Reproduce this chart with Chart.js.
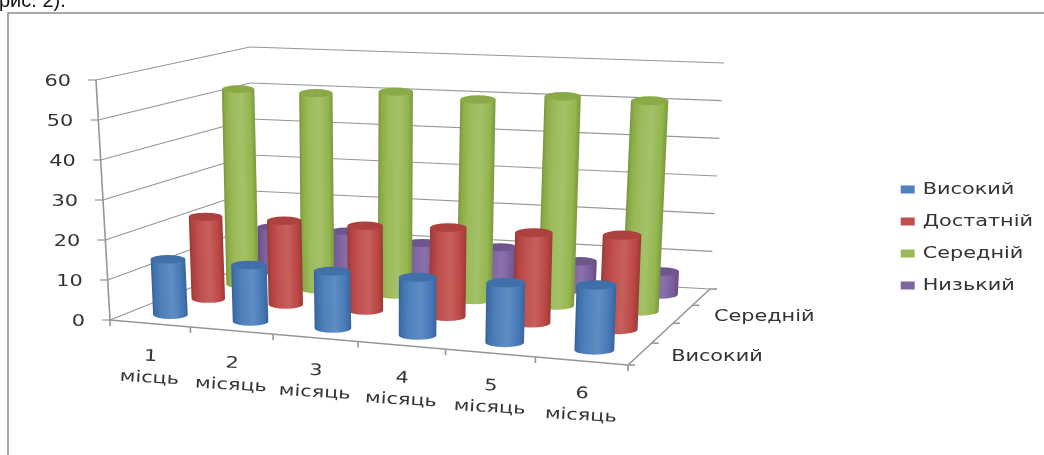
<!DOCTYPE html>
<html>
<head>
<meta charset="utf-8">
<style>
  html, body { margin: 0; padding: 0; background: #fff; }
  canvas { display: block; }
</style>
<script src="https://cdn.jsdelivr.net/npm/chart.js@4"></script>
</head>
<body>
<canvas id="popChart" width="1044" height="455"></canvas>
<script>
var monthLabels = [['1', 'місць'], ['2', 'місяць'], ['3', 'місяць'], ['4', 'місяць'], ['5', 'місяць'], ['6', 'місяць']];
var depthLabels = ['Високий', '', 'Середній', ''];
var seriesNames = ['Високий', 'Достатній', 'Середній', 'Низький'];
var seriesColors = ['#4F81BD', '#C0504D', '#9BBB59', '#8064A2'];

var highValues = [14, 14, 14, 14, 14.2, 15.2];
var sufficientValues = [21.3, 21.5, 21.5, 22.3, 22.3, 23];
var averageValues = [52, 51.8, 53, 51.8, 53.5, 53.2];
var lowValues = [12, 12, 10, 10, 7.5, 6];

var axisColor = '#969696';
var textColor = '#333333';
var color = Chart.helpers.color;

// corners of the box the cylinders stand in
var floorFL = [110, 320], floorFR = [628, 365], floorBR = [710, 289], floorBL = [253, 263];
var roofFL = [96, 80], roofFR = [638, 101], roofBR = [724, 63], roofBL = [250, 47];

function lerp(a, b, t) { return [a[0] + (b[0] - a[0]) * t, a[1] + (b[1] - a[1]) * t]; }

// u runs along the months, w goes into the depth, v is the value share of the axis
function project(u, w, v) {
  var fu = u / (1 + 0.088 * (1 - u));
  var fw = w * 1.217 / (1 + 0.217 * w);
  var low = lerp(lerp(floorFL, floorFR, fu), lerp(floorBL, floorBR, fu), fw);
  var high = lerp(lerp(roofFL, roofFR, fu), lerp(roofBL, roofBR, fu), fw);
  return lerp(low, high, v);
}

// position of a value along its scale, 0 to 1
function shareOf(scale, value) {
  return scale.getDecimalForPixel(scale.getPixelForValue(value));
}

// scales that keep their ticks but set the labels along the slanted edges
class WallLinear extends Chart.LinearScale {
  static id = 'wallLinear';
  _computeLabelArea() { return null; }
  _computeLabelItems(area) {
    var scale = this;
    var items = super._computeLabelItems(area);
    items.forEach(function (item, i) {
      var p = project(0, 0, shareOf(scale, scale.ticks[i].value));
      item.options.translation = [p[0] - 25, p[1] + 2];
    });
    return items;
  }
}

class MonthCategory extends Chart.CategoryScale {
  static id = 'monthCategory';
  _computeLabelArea() { return null; }
  _computeLabelItems(area) {
    var scale = this;
    var items = super._computeLabelItems(area);
    items.forEach(function (item, i) {
      var p = project(shareOf(scale, i), 0, 0);
      item.options.translation = [p[0], p[1] + 44];
      item.options.textAlign = 'center';
      item.options.textBaseline = 'middle';
      item.options.rotation = 0.055;
      item.textOffset = -item.font.lineHeight / 2;
    });
    return items;
  }
}

class DepthCategory extends Chart.CategoryScale {
  static id = 'depthCategory';
  _computeLabelArea() { return null; }
  _computeLabelItems(area) {
    var scale = this;
    var items = super._computeLabelItems(area);
    items.forEach(function (item, i) {
      var p = project(1, shareOf(scale, i), 0);
      item.options.translation = [p[0] + 31, p[1] + 3];
      item.options.textAlign = 'left';
      item.options.textBaseline = 'middle';
      item.textOffset = 0;
    });
    return items;
  }
}

class CylinderElement extends Chart.BarElement {
  static id = 'cylinder';
  draw(ctx) {
    var seat = this.seat;
    var halfWidth = 0.0365;

    var bottom = project(seat.u, seat.w, 0);
    var top = project(seat.u, seat.w, seat.v);
    var r = (project(seat.u + halfWidth, seat.w, 0)[0] - project(seat.u - halfWidth, seat.w, 0)[0]) / 2;
    var ry = r * 0.24;
    var base = this.options.backgroundColor;

    // shading runs square to the cylinder's lean
    var tilt = Math.atan2(bottom[0] - top[0], top[1] - bottom[1]);
    var midX = (top[0] + bottom[0]) / 2, midY = (top[1] + bottom[1]) / 2;
    var dx = r * Math.cos(tilt), dy = r * Math.sin(tilt);
    var side = ctx.createLinearGradient(midX - dx, midY - dy, midX + dx, midY + dy);
    side.addColorStop(0, color(base).darken(0.22).rgbString());
    side.addColorStop(0.14, color(base).darken(0.06).rgbString());
    side.addColorStop(0.42, color(base).lighten(0.08).rgbString());
    side.addColorStop(0.72, color(base).rgbString());
    side.addColorStop(0.92, color(base).darken(0.12).rgbString());
    side.addColorStop(1, color(base).darken(0.24).rgbString());

    ctx.save();
    ctx.beginPath();
    ctx.moveTo(top[0] - r, top[1]);
    ctx.lineTo(bottom[0] - r, bottom[1]);
    ctx.ellipse(bottom[0], bottom[1], r, ry, 0, Math.PI, 0, true);
    ctx.lineTo(top[0] + r, top[1]);
    ctx.closePath();
    ctx.fillStyle = side;
    ctx.fill();

    ctx.beginPath();
    ctx.ellipse(top[0], top[1], r, ry, 0, 0, Math.PI * 2);
    ctx.fillStyle = color(base).darken(0.13).rgbString();
    ctx.fill();
    ctx.restore();
  }
}

class CylinderController extends Chart.BarController {
  static id = 'cylinder';
  static defaults = { dataElementType: 'cylinder' };
  draw() {
    var scales = this.chart.scales;
    var index = this.index;
    var controller = this;
    this._cachedMeta.data.forEach(function (element, i) {
      element.seat = {
        u: shareOf(scales.x, i),
        w: shareOf(scales.depth, index),
        v: shareOf(scales.y, controller.getParsed(i).y)
      };
      element.draw(controller._ctx);
    });
  }
}

Chart.register(WallLinear, MonthCategory, DepthCategory, CylinderElement, CylinderController);

function line(ctx, a, b) {
  ctx.beginPath();
  ctx.moveTo(a[0], a[1]);
  ctx.lineTo(b[0], b[1]);
  ctx.stroke();
}

// the chart's lettering is set wide, so stretch every label sideways
var textStretch = 1.3;
function widenText(ctx) {
  var fillText = ctx.fillText.bind(ctx);
  var measureText = ctx.measureText.bind(ctx);
  ctx.fillText = function (text, x, y) {
    ctx.save();
    ctx.translate(x, y);
    ctx.scale(textStretch, 1);
    fillText(text, 0, 0);
    ctx.restore();
  };
  ctx.measureText = function (text) {
    return { width: measureText(text).width * textStretch };
  };
  ctx.fillPlain = fillText;
}

var pageFrame = {
  id: 'pageFrame',
  beforeDraw: function (chart) {
    var ctx = chart.ctx;
    ctx.save();
    ctx.strokeStyle = '#8a8a8a';
    ctx.lineWidth = 1.5;
    ctx.beginPath();
    ctx.moveTo(8, 455);
    ctx.lineTo(8, 13);
    ctx.lineTo(1044, 13);
    ctx.stroke();
    ctx.fillStyle = '#111';
    ctx.font = '20px "Liberation Sans"';
    ctx.textBaseline = 'alphabetic';
    ctx.fillPlain('рис. 2).', -1, 7);
    ctx.restore();
  }
};

// walls and floor edges, under the cylinders
var boxLines = {
  id: 'boxLines',
  beforeDatasetsDraw: function (chart) {
    var ctx = chart.ctx;
    var y = chart.scales.y;
    ctx.save();
    ctx.strokeStyle = axisColor;
    ctx.lineWidth = 1.2;
    y.ticks.forEach(function (tick) {
      var v = shareOf(y, tick.value);
      var front = project(0, 0, v), back = project(0, 1, v), right = project(1, 1, v);
      line(ctx, front, back);
      line(ctx, back, right);
      line(ctx, [front[0] - 8, front[1]], front);
    });
    ctx.lineWidth = 1.6;
    line(ctx, project(0, 0, 0), project(0, 0, 1));
    line(ctx, project(0, 0, 0), project(1, 0, 0));
    line(ctx, project(1, 0, 0), project(1, 1, 0));
    var i, p;
    for (i = 0; i <= monthLabels.length; i++) {
      p = project(i / monthLabels.length, 0, 0);
      line(ctx, p, [p[0], p[1] + 6]);
    }
    for (i = 0; i <= depthLabels.length; i++) {
      p = project(1, i / depthLabels.length, 0);
      line(ctx, p, [p[0] + 7, p[1]]);
    }
    ctx.restore();
  }
};

var labelFont = { family: '"DejaVu Sans"', size: 16, lineHeight: 1.36 };

var popCanvas = document.getElementById('popChart').getContext('2d');
widenText(popCanvas);
var barChart = new Chart(popCanvas, {
  type: 'cylinder',
  data: {
    labels: monthLabels,
    datasets: [
      { label: seriesNames[0], data: highValues, backgroundColor: seriesColors[0], clip: false },
      { label: seriesNames[1], data: sufficientValues, backgroundColor: seriesColors[1], clip: false },
      { label: seriesNames[2], data: averageValues, backgroundColor: seriesColors[2], clip: false },
      { label: seriesNames[3], data: lowValues, backgroundColor: seriesColors[3], clip: false }
    ]
  },
  plugins: [pageFrame, boxLines],
  options: {
    responsive: false,
    animation: false,
    events: [],
    layout: { padding: { left: 30, right: 1, top: 80, bottom: 60 } },
    scales: {
      x: {
        type: 'monthCategory',
        offset: true,
        grid: { display: false },
        border: { display: false },
        afterFit: function (scale) { scale.height = 75; },
        ticks: { autoSkip: false, maxRotation: 0, minRotation: 0, color: textColor, font: labelFont }
      },
      y: {
        type: 'wallLinear',
        min: 0,
        max: 60,
        grid: { display: false },
        border: { display: false },
        afterFit: function (scale) { scale.width = 50; },
        ticks: { stepSize: 10, color: textColor, font: labelFont }
      },
      depth: {
        type: 'depthCategory',
        position: 'right',
        labels: depthLabels,
        offset: true,
        grid: { display: false },
        border: { display: false },
        afterFit: function (scale) { scale.width = 0; },
        ticks: { autoSkip: false, color: textColor, font: labelFont }
      }
    },
    plugins: {
      tooltip: { enabled: false },
      title: { display: false },
      legend: {
        position: 'right',
        labels: {
          boxWidth: 14,
          boxHeight: 8,
          padding: 16,
          color: textColor,
          font: { family: '"DejaVu Sans"', size: 16 }
        }
      }
    }
  }
});
</script>
</body>
</html>
